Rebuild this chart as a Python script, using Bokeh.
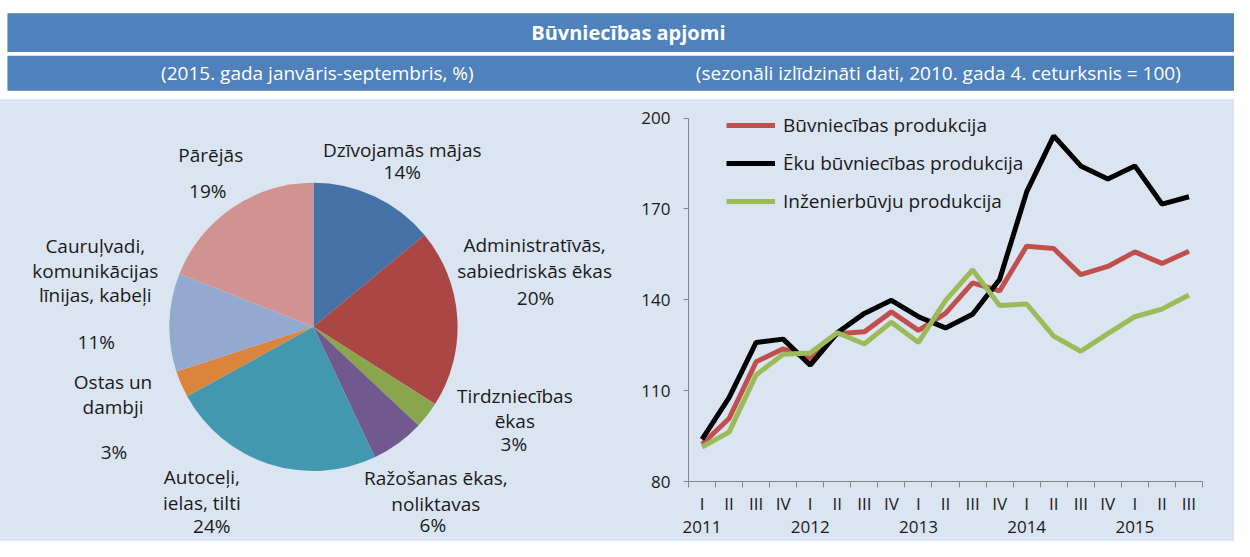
from bokeh.plotting import figure
from bokeh.layouts import column, row
from bokeh.models import Range1d, FixedTicker, LinearAxis, Legend, LegendItem, ColumnDataSource
from bokeh.core.properties import value
from bokeh.embed import file_html
from bokeh.resources import INLINE
import math

# ---------------- data ----------------
title = "Būvniecības apjomi"
subtitle_left = "(2015. gada janvāris-septembris, %)"
subtitle_right = "(sezonāli izlīdzināti dati, 2010. gada 4. ceturksnis = 100)"

pie_labels = [
    ["Dzīvojamās mājas"],
    ["Administratīvās,", "sabiedriskās ēkas"],
    ["Tirdzniecības", "ēkas"],
    ["Ražošanas ēkas,", "noliktavas"],
    ["Autoceļi,", "ielas, tilti"],
    ["Ostas un", "dambji"],
    ["Cauruļvadi,", "komunikācijas", "līnijas, kabeļi"],
    ["Pārējās"],
]
pie_values = [14, 20, 3, 6, 24, 3, 11, 19]
pie_colors = ["#4572A7", "#AA4643", "#89A54E", "#71588F", "#4198AF", "#DB843D", "#93A9CF", "#D19392"]

quarters = ["I", "II", "III", "IV", "I", "II", "III", "IV", "I", "II", "III", "IV",
            "I", "II", "III", "IV", "I", "II", "III"]
years = ["2011", "2012", "2013", "2014", "2015"]
series_names = ["Būvniecības produkcija", "Ēku būvniecības produkcija", "Inženierbūvju produkcija"]
total = [92.3, 100.8, 119.5, 123.8, 120.6, 128.8, 129.4, 136.0, 129.9, 135.5,
         145.6, 142.9, 157.7, 156.9, 148.3, 151.0, 155.8, 152.0, 156.0]
buildings = [93.9, 107.7, 125.9, 127.0, 118.4, 129.1, 135.5, 139.8, 134.4, 130.7,
             135.2, 146.7, 175.6, 194.1, 184.2, 179.9, 184.2, 171.6, 174.0]
civil = [91.4, 96.3, 115.2, 122.0, 122.4, 129.1, 125.4, 132.6, 125.9, 139.7,
         149.9, 138.1, 138.6, 128.0, 123.0, 128.8, 134.4, 136.9, 141.6]
series_colors = ["#C0504D", "#000000", "#9BBB59"]
y_ticks = [80, 110, 140, 170, 200]

FONT = "Open Sans"
BG = "#DBE5F1"
BAR = "#4F81BD"
TXT = "#1a1a1a"

# ---------------- layout geometry ----------------
TOTAL_W, TOTAL_H = 1234, 541
SX, SY = TOTAL_W / 1250.0, TOTAL_H / 557.0   # reference-to-page scale


def X(px):
    return px * SX


def Y(py):
    return py * SY


HDR_H = round(Y(102))
PANEL_H = TOTAL_H - HDR_H
PIE_W = round(X(630))
LC_W = TOTAL_W - PIE_W


def no_align(fig):
    if "frame_align" in fig.properties():
        fig.frame_align = False


# ---------------- header ----------------
hdr = figure(width=TOTAL_W, height=HDR_H, x_range=Range1d(0, TOTAL_W), y_range=Range1d(0, HDR_H),
             x_axis_type=None, y_axis_type=None, toolbar_location=None,
             output_backend="svg", min_border=0)
no_align(hdr)
hdr.title.visible = False
hdr.outline_line_color = None
hdr.grid.visible = False
hdr.background_fill_color = "white"
hdr.border_fill_color = "white"
hdr.quad(left=[X(7), X(7)], right=[TOTAL_W, TOTAL_W],
         top=[HDR_H - Y(13), HDR_H - Y(57)], bottom=[HDR_H - Y(53), HDR_H - Y(93)],
         fill_color=BAR, line_color=None)
hdr.text(x=[X(636)], y=[HDR_H - Y(33)], text=[title], text_color="white",
         text_font=value(FONT), text_font_size=value("20px"), text_font_style="bold",
         text_align="center", text_baseline="middle")
hdr.text(x=[X(321), X(950)], y=[HDR_H - Y(75), HDR_H - Y(75)], text=[subtitle_left, subtitle_right],
         text_color="white", text_font=value(FONT), text_font_size=value("19px"),
         text_align="center", text_baseline="middle")

# ---------------- pie ----------------
pie = figure(width=PIE_W, height=PANEL_H, x_range=Range1d(0, PIE_W), y_range=Range1d(0, PANEL_H),
             x_axis_type=None, y_axis_type=None, toolbar_location=None,
             output_backend="svg", min_border=0, styles={"background-color": BG})
no_align(pie)
pie.title.visible = False
pie.outline_line_color = None
pie.grid.visible = False
pie.background_fill_color = BG
pie.border_fill_color = BG

tot = sum(pie_values)
cum = [0]
for v in pie_values:
    cum.append(cum[-1] + v)
starts = [math.pi / 2 - 2 * math.pi * c / tot for c in cum[:-1]]
ends = [math.pi / 2 - 2 * math.pi * c / tot for c in cum[1:]]
pie_src = ColumnDataSource(dict(start=starts, end=ends, color=pie_colors, val=pie_values))
pie.wedge(x=X(317), y=TOTAL_H - Y(336), radius=146 * SX, start_angle="start", end_angle="end",
          direction="clock", fill_color="color", line_color=None, source=pie_src)

# label layout (reference coordinates of line centres; last entry = percent)
label_pos = [
    [(407, 154), (407, 177)],
    [(541, 252), (541, 278), (542, 306)],
    [(521, 407), (521, 433), (520, 457)],
    [(441, 492), (441, 518), (438, 540)],
    [(204, 491), (204, 517), (214, 541)],
    [(114, 393), (114, 419), (115, 465)],
    [(96, 253), (96, 278), (96, 303), (97, 352)],
    [(213, 159), (210, 196)],
]
lx, ly, lt = [], [], []
for lines, v, pos in zip(pie_labels, pie_values, label_pos):
    texts = lines + [f"{v}%"]
    for t, (px, py) in zip(texts, pos):
        lx.append(X(px))
        ly.append(TOTAL_H - Y(py))
        lt.append(t)
pie.text(x=lx, y=ly, text=lt, text_color=TXT, text_font=value(FONT),
         text_font_size=value("19px"), text_align="center", text_baseline="middle")

# ---------------- line chart ----------------
frame_left = round(X(697)) - PIE_W
frame_right = TOTAL_W - round(X(1218))
frame_top = 4
frame_bottom = TOTAL_H - round(Y(495))
frame_h = PANEL_H - frame_top - frame_bottom
top_of_200 = Y(121) - HDR_H          # px from panel top where 200 sits
px_per_unit = (PANEL_H - frame_bottom - top_of_200) / (200 - 80)
y_end = 200 + (top_of_200 - frame_top) / px_per_unit

lc = figure(width=LC_W, height=PANEL_H, x_range=Range1d(0, len(quarters)), y_range=Range1d(80, y_end),
            toolbar_location=None, output_backend="svg",
            min_border_left=frame_left, min_border_right=frame_right,
            min_border_top=frame_top, min_border_bottom=frame_bottom,
            styles={"background-color": BG})
no_align(lc)
lc.title.visible = False
lc.outline_line_color = None
lc.grid.visible = False
lc.background_fill_color = BG
lc.border_fill_color = BG

xs = [i + 0.5 for i in range(len(quarters))]
renderers = []
for ys, col in zip([total, buildings, civil], series_colors):
    r = lc.line(xs, ys, line_color=col, line_width=5)
    renderers.append(r)

AX = "#868686"
ya = lc.yaxis[0]
ya.ticker = FixedTicker(ticks=y_ticks)
ya.bounds = (80, 200)
ya.major_tick_out = 5
ya.major_tick_in = 0
ya.minor_tick_line_color = None
ya.axis_line_color = AX
ya.major_tick_line_color = AX
ya.major_label_text_font = FONT
ya.major_label_text_font_size = "17px"
ya.major_label_text_color = TXT
ya.major_label_standoff = 13

xa = lc.xaxis[0]
xa.ticker = FixedTicker(ticks=xs, minor_ticks=list(range(len(quarters) + 1)))
xa.major_label_overrides = {x: q for x, q in zip(xs, quarters)}
xa.major_tick_line_color = None
xa.major_tick_out = 0
xa.major_tick_in = 0
xa.minor_tick_out = 6
xa.minor_tick_in = 0
xa.minor_tick_line_color = AX
xa.axis_line_color = AX
xa.major_label_text_font = FONT
xa.major_label_text_font_size = "17px"
xa.major_label_text_color = TXT
xa.major_label_standoff = 4

year_ticks = [xs[i] for i, q in enumerate(quarters) if q == "I"]
ya2 = LinearAxis(ticker=FixedTicker(ticks=year_ticks, minor_ticks=[]),
                 major_label_overrides={x: y for x, y in zip(year_ticks, years)})
ya2.axis_line_color = None
ya2.major_tick_line_color = None
ya2.minor_tick_line_color = None
ya2.major_tick_out = 0
ya2.major_tick_in = 0
ya2.major_label_text_font = FONT
ya2.major_label_text_font_size = "17px"
ya2.major_label_text_color = TXT
ya2.major_label_standoff = 3
lc.add_layout(ya2, "below")

legend_rows_h = 3 * 24 + 2 * 12
legend_top_from_bottom = frame_h - (Y(121) - HDR_H - frame_top)
legend = Legend(items=[LegendItem(label=n, renderers=[r]) for n, r in zip(series_names, renderers)],
                location=(round(X(735)) - round(X(697)), round(legend_top_from_bottom - legend_rows_h)),
                padding=0, margin=0, spacing=12,
                glyph_width=49, glyph_height=24, label_height=24, label_standoff=8,
                background_fill_alpha=0, border_line_color=None,
                label_text_font=FONT, label_text_font_size="19px", label_text_color=TXT)
lc.add_layout(legend)

panels = row(pie, lc, spacing=0, styles={"background-color": BG})
layout = column(hdr, panels, spacing=0)
open("out.html", "w").write(file_html(layout, INLINE))
